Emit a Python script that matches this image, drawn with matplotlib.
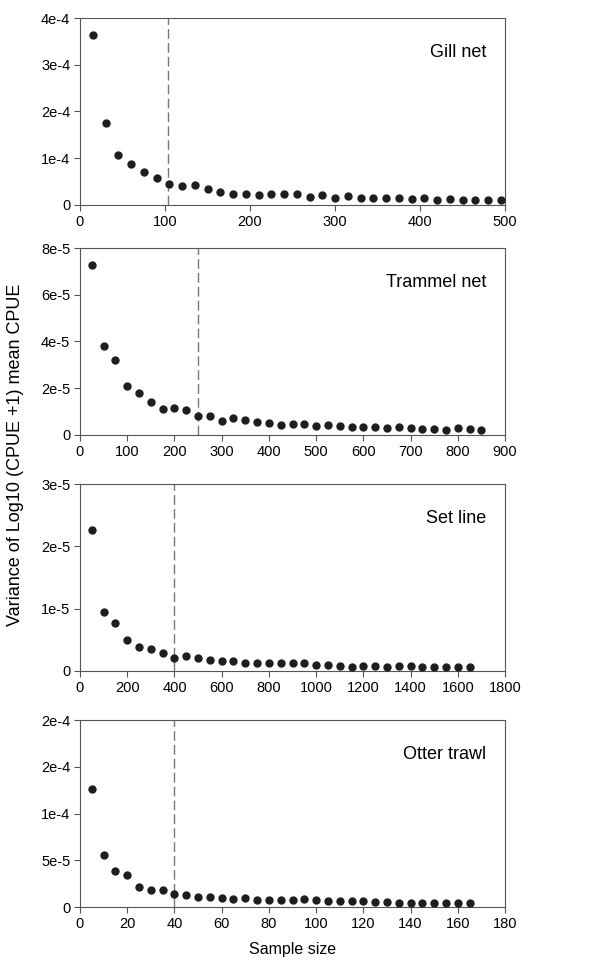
import matplotlib.pyplot as plt
import numpy as np

plt.rcParams["font.family"] = ["Liberation Sans", "DejaVu Sans"]
plt.rcParams["font.size"] = 10.5

gill_x = np.arange(15, 496, 15)
gill_y = [3.64, 1.76, 1.07, 0.87, 0.70, 0.57, 0.44, 0.41, 0.43, 0.34, 0.28, 0.24, 0.24,
          0.22, 0.24, 0.24, 0.24, 0.18, 0.21, 0.16, 0.19, 0.16, 0.16, 0.15, 0.14, 0.12,
          0.14, 0.11, 0.12, 0.11, 0.11, 0.11, 0.11]
gill_y = np.array(gill_y) * 1e-4

tram_x = np.arange(25, 851, 25)
tram_y = [7.26, 3.80, 3.20, 2.11, 1.80, 1.43, 1.10, 1.17, 1.06, 0.80, 0.80, 0.61, 0.71,
          0.66, 0.56, 0.53, 0.44, 0.46, 0.49, 0.40, 0.43, 0.39, 0.36, 0.33, 0.36, 0.30,
          0.34, 0.29, 0.26, 0.26, 0.23, 0.29, 0.26, 0.23]
tram_y = np.array(tram_y) * 1e-5

set_x = np.arange(50, 1651, 50)
set_y = [2.26, 0.953, 0.771, 0.493, 0.380, 0.348, 0.284, 0.214, 0.241, 0.209, 0.177,
         0.166, 0.166, 0.134, 0.123, 0.134, 0.134, 0.129, 0.129, 0.091, 0.091, 0.080,
         0.070, 0.080, 0.080, 0.064, 0.075, 0.075, 0.064, 0.070, 0.064, 0.059, 0.059]
set_y = np.array(set_y) * 1e-5

otter_x = np.arange(5, 166, 5)
otter_y = [1.261, 0.551, 0.380, 0.337, 0.210, 0.181, 0.181, 0.139, 0.131, 0.103, 0.103,
           0.092, 0.082, 0.092, 0.078, 0.075, 0.075, 0.075, 0.082, 0.071, 0.060, 0.064,
           0.064, 0.060, 0.050, 0.050, 0.043, 0.043, 0.046, 0.046, 0.043, 0.043, 0.043]
otter_y = np.array(otter_y) * 1e-4

panels = [
    ("Gill net", gill_x, gill_y, 103, 500, [0, 100, 200, 300, 400, 500],
     [0, 1e-4, 2e-4, 3e-4, 4e-4], ["0", "1e-4", "2e-4", "3e-4", "4e-4"]),
    ("Trammel net", tram_x, tram_y, 250, 900, list(range(0, 901, 100)),
     [0, 2e-5, 4e-5, 6e-5, 8e-5], ["0", "2e-5", "4e-5", "6e-5", "8e-5"]),
    ("Set line", set_x, set_y, 400, 1800, list(range(0, 1801, 200)),
     [0, 1e-5, 2e-5, 3e-5], ["0", "1e-5", "2e-5", "3e-5"]),
    ("Otter trawl", otter_x, otter_y, 40, 180, list(range(0, 181, 20)),
     [0, 5e-5, 1e-4, 1.5e-4, 2e-4], ["0", "5e-5", "1e-4", "2e-4", "2e-4"]),
]

fig = plt.figure(figsize=(6.07, 9.63), dpi=100)
W, H = 607, 963
tops = [18, 248, 484, 720]
ph = 187
for (name, x, y, cut, xmax, xt, yt, ytl), top in zip(panels, tops):
    ax = fig.add_axes([80 / W, 1 - (top + ph) / H, 425 / W, ph / H])
    ax.plot(x, y, "o", color="#1e1e1e", markersize=5.0, zorder=3)
    ax.axvline(cut, color="#777777", linestyle=(0, (7, 3)), linewidth=1.0)
    ax.set_xlim(0, xmax)
    ax.set_ylim(0, yt[-1])
    ax.set_xticks(xt)
    ax.set_yticks(yt)
    ax.set_yticklabels(ytl)
    ax.tick_params(direction="out", length=4, width=0.8, color="#555555", pad=3)
    for s in ax.spines.values():
        s.set_color("#555555")
        s.set_linewidth(0.8)
    ax.text(0.955, 0.815, name, transform=ax.transAxes, ha="right", va="center", fontsize=13)
    if name == "Otter trawl":
        ax.set_xlabel("Sample size", labelpad=8, fontsize=11.5)

fig.text(16 / W, 1 - 455 / H, "Variance of Log10 (CPUE +1) mean CPUE", rotation=90,
         ha="center", va="center", fontsize=13)

fig.savefig("out.png", dpi=100)
